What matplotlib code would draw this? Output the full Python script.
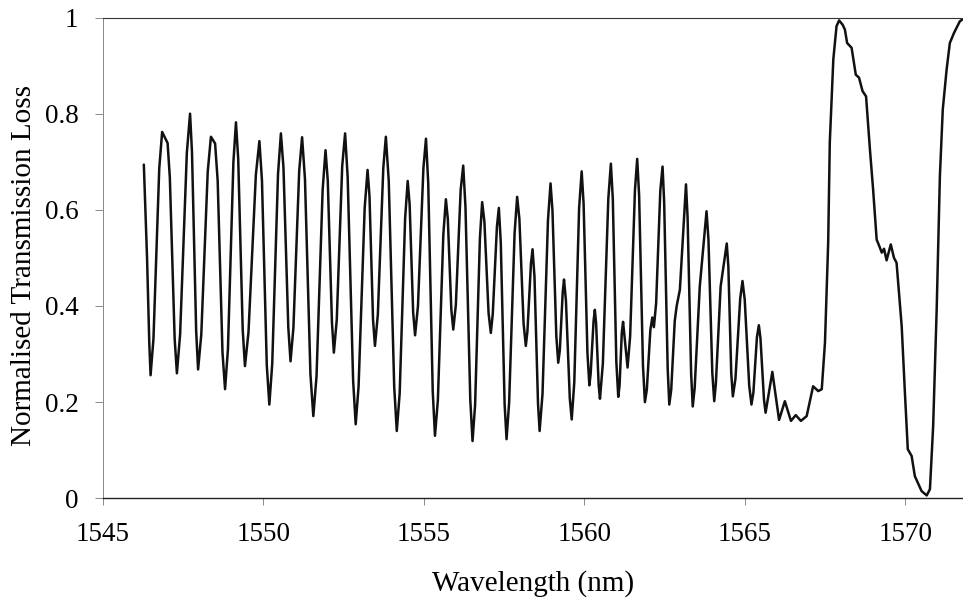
import numpy as np
import matplotlib
matplotlib.use("Agg")
import matplotlib.pyplot as plt

# wavelength (nm) and normalised transmission loss
wavelength = [
    1546.28, 1546.38, 1546.45, 1546.49, 1546.58, 1546.76, 1546.85, 1547.02,
    1547.09, 1547.24, 1547.31, 1547.41, 1547.62, 1547.72, 1547.78, 1547.91,
    1547.97, 1548.07, 1548.27, 1548.37, 1548.50, 1548.58, 1548.73, 1548.81,
    1548.90, 1549.07, 1549.15, 1549.22, 1549.36, 1549.43, 1549.54, 1549.77,
    1549.88, 1549.96, 1550.11, 1550.19, 1550.28, 1550.46, 1550.55, 1550.63,
    1550.78, 1550.85, 1550.94, 1551.12, 1551.21, 1551.30, 1551.47, 1551.56,
    1551.66, 1551.85, 1551.94, 1552.01, 1552.14, 1552.20, 1552.29, 1552.46,
    1552.55, 1552.63, 1552.80, 1552.88, 1552.97, 1553.16, 1553.25, 1553.31,
    1553.42, 1553.48, 1553.57, 1553.74, 1553.82, 1553.91, 1554.08, 1554.16,
    1554.25, 1554.42, 1554.50, 1554.56, 1554.67, 1554.73, 1554.82, 1554.99,
    1555.07, 1555.14, 1555.28, 1555.35, 1555.44, 1555.61, 1555.69, 1555.75,
    1555.86, 1555.92, 1556.00, 1556.15, 1556.23, 1556.30, 1556.45, 1556.52,
    1556.60, 1556.75, 1556.82, 1556.89, 1557.02, 1557.09, 1557.15, 1557.28,
    1557.34, 1557.40, 1557.52, 1557.58, 1557.66, 1557.83, 1557.91, 1557.98,
    1558.11, 1558.18, 1558.23, 1558.34, 1558.39, 1558.45, 1558.56, 1558.61,
    1558.70, 1558.87, 1558.95, 1559.01, 1559.13, 1559.19, 1559.24, 1559.33,
    1559.37, 1559.43, 1559.55, 1559.61, 1559.69, 1559.84, 1559.92, 1559.98,
    1560.10, 1560.16, 1560.20, 1560.29, 1560.33, 1560.37, 1560.45, 1560.49,
    1560.58, 1560.75, 1560.83, 1560.89, 1561.00, 1561.06, 1561.10, 1561.17,
    1561.21, 1561.35, 1561.43, 1561.58, 1561.65, 1561.71, 1561.83, 1561.89,
    1561.95, 1562.06, 1562.12, 1562.17, 1562.24, 1562.37, 1562.44, 1562.49,
    1562.60, 1562.65, 1562.71, 1562.82, 1562.88, 1562.98, 1563.17, 1563.22,
    1563.33, 1563.38, 1563.44, 1563.60, 1563.81, 1563.87, 1563.99, 1564.05,
    1564.10, 1564.25, 1564.44, 1564.49, 1564.58, 1564.63, 1564.71, 1564.86,
    1564.93, 1565.00, 1565.14, 1565.21, 1565.27, 1565.38, 1565.44, 1565.49,
    1565.60, 1565.65, 1565.86, 1566.07, 1566.25, 1566.44, 1566.59, 1566.75,
    1566.93, 1567.13, 1567.29, 1567.40, 1567.50, 1567.60, 1567.65, 1567.76,
    1567.86, 1567.94, 1568.05, 1568.12, 1568.19, 1568.33, 1568.46, 1568.56,
    1568.67, 1568.78, 1568.90, 1569.00, 1569.11, 1569.19, 1569.27, 1569.34,
    1569.42, 1569.55, 1569.65, 1569.73, 1569.89, 1569.99, 1570.08, 1570.20,
    1570.30, 1570.51, 1570.67, 1570.77, 1570.87, 1570.98, 1571.08, 1571.17,
    1571.29, 1571.39, 1571.52, 1571.70, 1571.78,
]
loss = [
    0.694, 0.500, 0.322, 0.256, 0.332, 0.686, 0.762, 0.739,
    0.667, 0.332, 0.260, 0.341, 0.719, 0.800, 0.720, 0.348,
    0.268, 0.341, 0.679, 0.752, 0.738, 0.661, 0.304, 0.227,
    0.310, 0.699, 0.782, 0.706, 0.351, 0.275, 0.345, 0.673,
    0.743, 0.661, 0.277, 0.195, 0.280, 0.674, 0.759, 0.688,
    0.356, 0.285, 0.355, 0.681, 0.751, 0.664, 0.258, 0.171,
    0.254, 0.641, 0.724, 0.661, 0.366, 0.303, 0.371, 0.691,
    0.759, 0.668, 0.245, 0.154, 0.233, 0.604, 0.683, 0.628,
    0.372, 0.317, 0.382, 0.687, 0.752, 0.660, 0.232, 0.140,
    0.218, 0.582, 0.660, 0.612, 0.387, 0.339, 0.400, 0.687,
    0.748, 0.655, 0.223, 0.130, 0.204, 0.548, 0.622, 0.581,
    0.392, 0.351, 0.402, 0.641, 0.692, 0.606, 0.205, 0.119,
    0.194, 0.541, 0.616, 0.575, 0.385, 0.344, 0.383, 0.565,
    0.604, 0.532, 0.195, 0.123, 0.199, 0.551, 0.627, 0.581,
    0.364, 0.317, 0.347, 0.488, 0.518, 0.461, 0.197, 0.140,
    0.217, 0.578, 0.655, 0.599, 0.338, 0.282, 0.308, 0.429,
    0.455, 0.411, 0.208, 0.164, 0.241, 0.603, 0.680, 0.613,
    0.302, 0.235, 0.259, 0.368, 0.392, 0.364, 0.235, 0.207,
    0.280, 0.623, 0.696, 0.623, 0.284, 0.211, 0.234, 0.344,
    0.367, 0.272, 0.337, 0.641, 0.706, 0.630, 0.276, 0.200,
    0.226, 0.350, 0.376, 0.356, 0.406, 0.640, 0.690, 0.616,
    0.269, 0.195, 0.226, 0.369, 0.400, 0.434, 0.653, 0.584,
    0.260, 0.191, 0.229, 0.441, 0.597, 0.538, 0.261, 0.202,
    0.238, 0.441, 0.530, 0.482, 0.260, 0.212, 0.248, 0.416,
    0.452, 0.413, 0.234, 0.195, 0.220, 0.335, 0.360, 0.333,
    0.205, 0.178, 0.263, 0.163, 0.202, 0.161, 0.173, 0.161,
    0.171, 0.233, 0.223, 0.227, 0.324, 0.532, 0.740, 0.913,
    0.982, 0.994, 0.985, 0.975, 0.947, 0.937, 0.881, 0.875,
    0.847, 0.836, 0.726, 0.642, 0.538, 0.525, 0.511, 0.519,
    0.495, 0.528, 0.500, 0.490, 0.358, 0.220, 0.102, 0.088,
    0.046, 0.015, 0.006, 0.019, 0.150, 0.393, 0.670, 0.809,
    0.892, 0.947, 0.968, 0.992, 0.996,
]

x_ticks = [1545, 1550, 1555, 1560, 1565, 1570]
y_ticks = [0, 0.2, 0.4, 0.6, 0.8, 1]
y_tick_labels = ['0', '0.2', '0.4', '0.6', '0.8', '1']

plt.rcParams['font.family'] = ['Liberation Serif', 'DejaVu Serif']

fig = plt.figure(figsize=(9.63, 6.0), dpi=100)
ax = fig.add_axes([0.1067, 0.1695, 0.8933, 0.8013])

ax.plot(wavelength, loss, color='#111111', lw=1.8,
        solid_joinstyle='round', solid_capstyle='round')

ax.set_xlim(1545, 1571.8)
ax.set_ylim(0, 1)
ax.set_xticks(x_ticks)
ax.set_yticks(y_ticks)
ax.set_yticklabels(y_tick_labels)

ax.spines['right'].set_visible(False)
ax.spines['left'].set_color('#888888')
ax.spines['left'].set_linewidth(0.7)
ax.spines['top'].set_color('#333333')
ax.spines['top'].set_linewidth(0.8)
ax.spines['bottom'].set_color('#222222')
ax.spines['bottom'].set_linewidth(1.0)

ax.tick_params(axis='x', direction='out', length=5, width=0.6,
               color='#777777', labelsize=19.5, pad=12)
ax.tick_params(axis='y', direction='out', length=5.5, width=0.6,
               color='#777777', labelsize=19.5, pad=12)

ax.set_xlabel('Wavelength (nm)', fontsize=21)
ax.set_ylabel('Normalised Transmission Loss', fontsize=21)
ax.xaxis.set_label_coords(0.5, -0.149)
ax.yaxis.set_label_coords(-0.077, 0.485)

fig.savefig('out.png', dpi=100)
